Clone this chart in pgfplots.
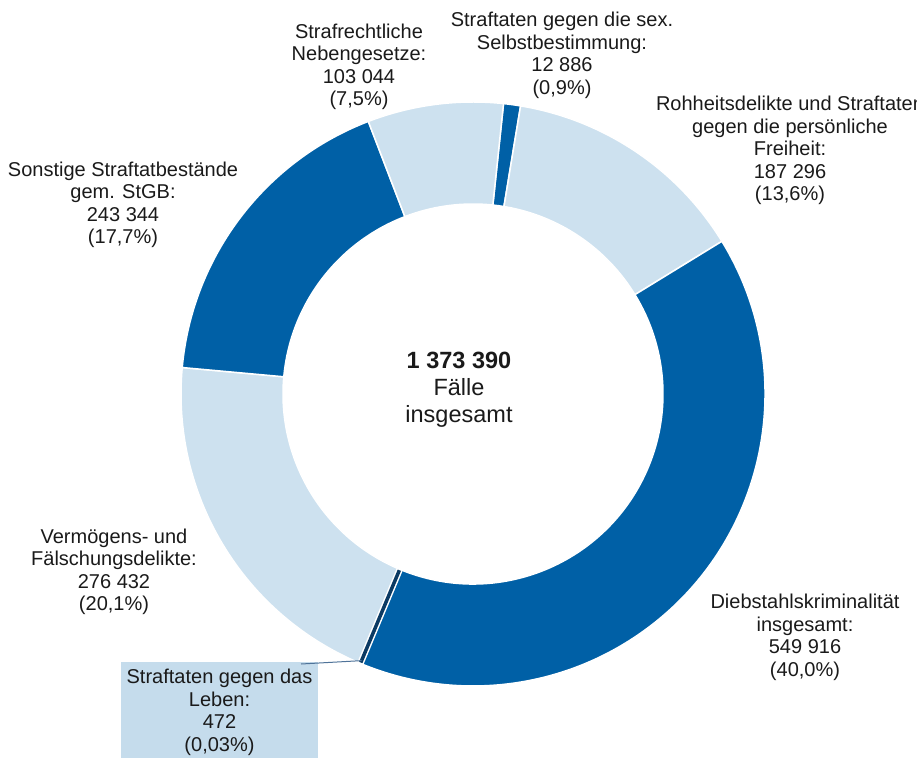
\documentclass[border=0pt]{standalone}
\usepackage{pgfplots}
\pgfplotsset{compat=1.18}
\usepackage{pgfplotstable}
\usepackage{fontspec}
\setmainfont{Liberation Sans}

\definecolor{dkblue}{RGB}{0,96,166}
\definecolor{ltblue}{RGB}{205,225,239}
\definecolor{navy}{RGB}{11,58,99}
\definecolor{boxblue}{RGB}{197,220,236}
\definecolor{leader}{RGB}{79,115,153}
\definecolor{txt}{RGB}{26,26,26}

% Faelle je Deliktsgruppe, im Uhrzeigersinn ab 12 Uhr
\pgfplotstableread{
n
12886
187296
549916
472
276432
243344
103044
}\crimes
\def\total{1373390}

\colorlet{c0}{dkblue}
\colorlet{c1}{ltblue}
\colorlet{c2}{dkblue}
\colorlet{c3}{navy}
\colorlet{c4}{ltblue}
\colorlet{c5}{dkblue}
\colorlet{c6}{ltblue}

% start/end angles of each slice
\xdef\cum{84}
\foreach \i in {0,...,6}{%
  \pgfplotstablegetelem{\i}{n}\of\crimes
  \xdef\nxt{\fpeval{\cum-\pgfplotsretval/\total*360}}%
  \expandafter\xdef\csname aS\i\endcsname{\cum}%
  \expandafter\xdef\csname aE\i\endcsname{\nxt}%
  \xdef\cum{\nxt}%
}
\xdef\lebenmid{\fpeval{(\csname aS3\endcsname+\csname aE3\endcsname)/2}}

% axis commands are replayed later, so expand the angles now
\newcommand\seg[1]{%
  \edef\s{\csname aS#1\endcsname}\edef\e{\csname aE#1\endcsname}%
  \edef\tmp{\noexpand\filldraw[fill=c#1, draw=white, line width=1.5pt]
    (axis cs:473,364) ++(\s:292pt) arc[start angle=\s, end angle=\e, radius=292pt]
    -- ++(\e+180:102pt) arc[start angle=\e, end angle=\s, radius=190pt] -- cycle;}%
  \tmp
}

\tikzset{lbl/.style={align=center, text=txt, inner sep=0pt,
  font=\fontsize{20}{22.5}\selectfont}}

\begin{document}
\begin{tikzpicture}
\begin{axis}[name=ax, x=1pt, y=1pt, scale only axis, hide axis,
  xmin=0, xmax=917, ymin=0, ymax=758, enlargelimits=false, clip=false]

\seg{0}\seg{1}\seg{2}\seg{3}\seg{4}\seg{5}\seg{6}

% Straftaten gegen das Leben: zu schmal, als Linie hervorgehoben
\draw[white, line width=6.5pt] (axis cs:473,364) ++(\lebenmid:189pt) -- ++(\lebenmid:104pt);
\draw[navy, line width=3.5pt] (axis cs:473,364) ++(\lebenmid:191pt) -- ++(\lebenmid:100pt);

\node[lbl, fill=boxblue, minimum width=197pt, minimum height=96pt] at (axis cs:219.5,48) {};
\draw[leader, line width=1pt] (axis cs:473,364) ++(\lebenmid:289pt) -- (axis cs:301,94);
\node[lbl] at (axis cs:219.5,45.5) {Straftaten gegen das\\Leben:\\472\\(0,03\%)};

\node[lbl] at (axis cs:359,691) {Strafrechtliche\\Nebengesetze:\\103 044\\(7,5\%)};
\node[lbl] at (axis cs:562,702.5) {Straftaten gegen die sex.\\Selbstbestimmung:\\12 886\\(0,9\%)};
\node[lbl] at (axis cs:790,607.5) {Rohheitsdelikte und Straftaten\\gegen die persönliche\\Freiheit:\\187 296\\(13,6\%)};
\node[lbl] at (axis cs:123,553) {Sonstige Straftatbestände\\gem. StGB:\\243 344\\(17,7\%)};
\node[lbl] at (axis cs:114,186) {Vermögens- und\\Fälschungsdelikte:\\276 432\\(20,1\%)};
\node[lbl] at (axis cs:805,120.5) {Diebstahlskriminalität\\insgesamt:\\549 916\\(40,0\%)};

\node[lbl, font=\fontsize{23.5}{27}\selectfont] at (axis cs:459,368)
  {\textbf{1 373 390}\\Fälle\\insgesamt};
\end{axis}
\pgfresetboundingbox
\useasboundingbox (ax.south west) rectangle (ax.north east);
\end{tikzpicture}
\end{document}
